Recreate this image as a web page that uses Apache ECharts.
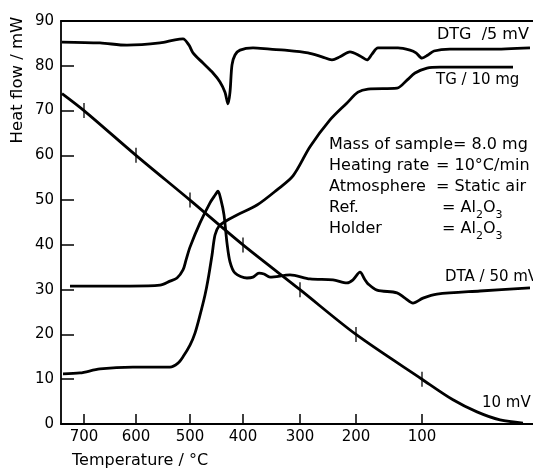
<!DOCTYPE html>
<html><head><meta charset="utf-8">
<script src="https://cdn.jsdelivr.net/npm/echarts@6/dist/echarts.min.js"></script>
<style>html,body{margin:0;padding:0;background:#fff}#c{width:533px;height:468px}</style>
</head><body><div id="c"></div>
<script>
// x = recorder chart position (arbitrary units); temperature tick labels sit at tickPos
const tickTemps = [700, 600, 500, 400, 300, 200, 100];
const tickPos = [23, 75, 129, 182, 239, 295, 361];

const dtg = [[1,85.3],[39,85.1],[66,84.6],[99,85.1],[114,85.8],[122,86.0],[128,84.6],[132,82.9],[142,80.6],[152,78.4],[159,76.4],[164,74.1],[167,71.5],[169,74.1],[171,80.2],[174,82.4],[179,83.5],[192,84.0],[209,83.7],[224,83.5],[247,82.9],[261,82.0],[271,81.3],[279,82.0],[289,83.1],[299,82.2],[306,81.3],[311,82.6],[317,84.0],[337,84.0],[349,83.5],[355,82.9],[361,81.7],[367,82.4],[373,83.3],[389,83.7],[429,83.7],[469,84.0]];

const tg = [[2,11.2],[19,11.4],[39,12.3],[72,12.7],[109,12.7],[117,13.6],[122,15.0],[129,17.6],[134,20.3],[139,24.3],[144,28.8],[147,32.2],[151,37.7],[154,42.2],[158,44.2],[167,45.6],[176,46.7],[196,48.9],[216,52.3],[232,55.4],[249,61.9],[269,67.9],[286,71.7],[297,74.1],[307,74.8],[336,75.0],[346,76.8],[354,78.4],[366,79.5],[379,79.7],[452,79.7]];

const dta = [[9,30.8],[39,30.8],[69,30.8],[99,31.0],[109,31.9],[116,32.6],[122,34.4],[125,36.6],[129,39.5],[139,44.9],[149,49.4],[154,51.1],[157,52.0],[160,50.0],[163,46.7],[166,40.4],[169,36.2],[174,33.7],[186,32.6],[192,32.8],[198,33.7],[203,33.5],[209,32.8],[229,33.3],[249,32.4],[272,32.2],[286,31.5],[292,32.2],[299,33.9],[304,32.2],[307,31.3],[316,29.9],[336,29.3],[344,28.1],[352,27.0],[362,28.1],[376,29.0],[419,29.7],[469,30.4]];

const tempCurve = [[1,73.8],[23,70],[75,60],[129,50],[182,40],[239,30],[295,20],[361,10],[392,5.4],[416,2.7],[439,0.9],[462,0.2]];
const tempMarks = tickPos.map((p, i) => [p, tickTemps[i] / 10]);

const FONT = '"DejaVu Sans", sans-serif';
const chart = echarts.init(document.getElementById('c'));
const lineS = (data) => ({type:'line', data, xAxisIndex:0, yAxisIndex:0, showSymbol:false, smooth:0.3,
  lineStyle:{color:'#000', width:2.8}, silent:true, animation:false});
const txt = (x, y, text, size, align) => ({type:'text', x, y,
  style:{text, fill:'#000', fontSize:size, fontFamily:FONT, align:align || 'left', verticalAlign:'middle'}});
const rich = {
  a:{fontSize:16, fontFamily:FONT, color:'#000', lineHeight:16, verticalAlign:'top'},
  s:{fontSize:11, fontFamily:FONT, color:'#000', lineHeight:21, verticalAlign:'bottom'}
};
const col1 = 329, col2 = 436;

chart.setOption({
  animation:false,
  grid:{left:61, right:0, top:21, bottom:44, containLabel:false, outerBoundsMode:'none'},
  xAxis:[{
    type:'value', min:0, max:472, position:'bottom',
    axisLine:{show:true, onZero:false, lineStyle:{color:'#000', width:1.8}},
    axisTick:{show:true, inside:true, length:10, customValues:tickPos, lineStyle:{color:'#000', width:1.5}},
    axisLabel:{customValues:tickPos, margin:6, color:'#000', fontSize:15, fontFamily:FONT,
      formatter:(v) => { const i = tickPos.indexOf(v); return i >= 0 ? String(tickTemps[i]) : ''; }},
    splitLine:{show:false}
  },{
    type:'value', min:0, max:472, position:'top',
    axisLine:{show:true, onZero:false, lineStyle:{color:'#000', width:1.8}},
    axisTick:{show:false}, axisLabel:{show:false}, splitLine:{show:false}
  }],
  yAxis:{
    type:'value', min:0, max:90, interval:10,
    axisLine:{show:true, onZero:false, lineStyle:{color:'#000', width:1.8}},
    axisTick:{show:true, inside:true, length:13, lineStyle:{color:'#000', width:1.5}},
    axisLabel:{margin:7, color:'#000', fontSize:15, fontFamily:FONT},
    splitLine:{show:false}
  },
  series:[
    lineS(dtg), lineS(tg), lineS(dta), lineS(tempCurve),
    {type:'scatter', data:tempMarks, symbol:'rect', symbolSize:[1.6,15],
      itemStyle:{color:'#000'}, silent:true, animation:false}
  ],
  graphic:[
    {type:'text', x:18, y:80, rotation:Math.PI/2,
      style:{text:'Heat flow / mW', fill:'#000', fontSize:16.5, fontFamily:FONT, align:'center', verticalAlign:'middle'}},
    txt(72, 461, 'Temperature / °C', 16, 'left'),
    txt(437, 35, 'DTG  /5 mV', 16),
    txt(436, 80, 'TG / 10 mg', 15),
    txt(445, 277, 'DTA / 50 mV', 15),
    txt(482, 403, '10 mV', 15),
    txt(col1, 145, 'Mass of sample= 8.0 mg', 16),
    txt(col1, 166, 'Heating rate', 16),
    txt(col2, 166, '= 10°C/min', 16),
    txt(col1, 187, 'Atmosphere', 16),
    txt(col2, 187, '= Static air', 16),
    txt(col1, 208, 'Ref.', 16),
    {type:'text', x:442, y:210, style:{text:'{a|= Al}{s|2}{a|O}{s|3}', rich, verticalAlign:'middle'}},
    txt(col1, 229, 'Holder', 16),
    {type:'text', x:442, y:231, style:{text:'{a|= Al}{s|2}{a|O}{s|3}', rich, verticalAlign:'middle'}}
  ]
});
</script></body></html>
